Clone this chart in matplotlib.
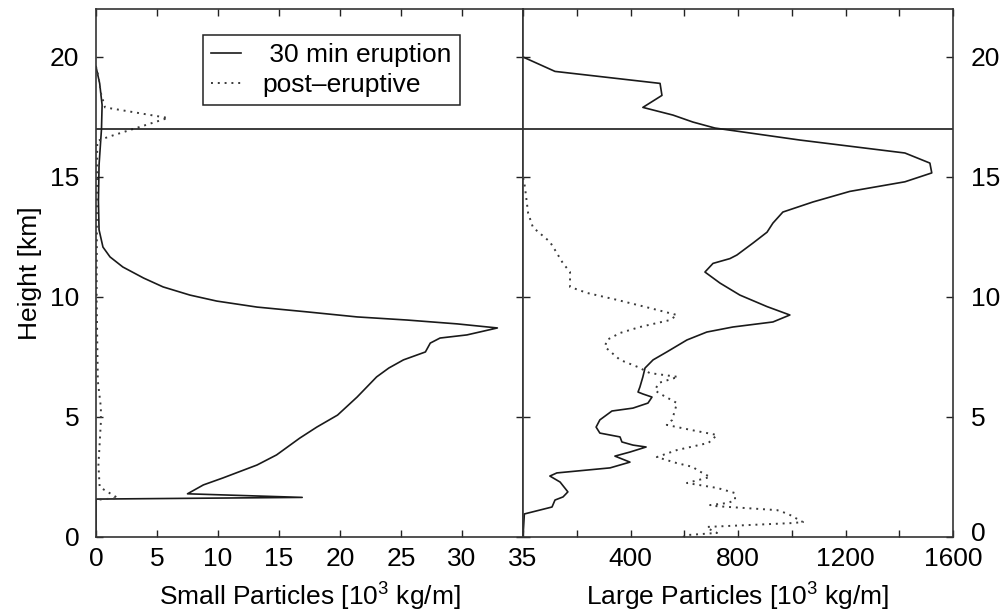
import matplotlib
matplotlib.use("Agg")
import matplotlib.pyplot as plt
from matplotlib.transforms import ScaledTranslation

plt.rcParams["font.family"] = ["Liberation Sans", "DejaVu Sans"]
plt.rcParams["font.size"] = 19
plt.rcParams["mathtext.fontset"] = "custom"
plt.rcParams["mathtext.rm"] = "Liberation Sans"
plt.rcParams["mathtext.it"] = "Liberation Sans"

# Small particles: mass per unit height [10^3 kg/m] vs. height [km]
small_erupt_h = [0.0, 1.58, 1.65, 1.80, 2.17, 2.46, 3.00, 3.42, 4.12, 4.58, 5.08, 5.83,
                 6.67, 7.04, 7.38, 7.71, 8.08, 8.29, 8.42, 8.71, 8.88, 9.04, 9.17, 9.38,
                 9.58, 9.83, 10.08, 10.42, 10.79, 11.25, 11.67, 12.08, 12.80, 14.00,
                 15.50, 17.00, 18.00, 18.90, 19.60]
small_erupt_v = [0.0, 0.0, 16.9, 7.5, 8.8, 10.4, 13.2, 14.8, 16.7, 18.1, 19.8, 21.4,
                 23.0, 24.0, 25.2, 27.0, 27.4, 28.2, 30.4, 32.9, 29.6, 25.5, 21.4, 17.3,
                 13.2, 9.9, 7.7, 5.5, 3.9, 2.2, 1.15, 0.57, 0.25, 0.2,
                 0.25, 0.45, 0.5, 0.3, 0.0]

small_post_h = [0.0, 1.55, 1.62, 2.08, 3.0, 4.8, 5.4, 6.5, 10.0, 16.5, 16.67, 17.46,
                17.90, 18.5, 19.2, 19.6]
small_post_v = [0.0, 0.0, 1.8, 0.3, 0.2, 0.4, 0.4, 0.15, 0.05, 0.1, 1.0, 5.9,
                0.74, 0.4, 0.2, 0.0]

# Large particles
large_erupt_h = [0.0, 0.96, 1.25, 1.54, 1.67, 1.88, 2.29, 2.54, 2.67, 2.88, 3.0, 3.12,
                 3.37, 3.54, 3.75, 3.83, 3.96, 4.17, 4.33, 4.58, 4.88, 5.25, 5.37, 5.58,
                 5.83, 5.96, 6.04, 6.25, 6.67, 7.04, 7.38, 7.71, 8.21, 8.54, 8.75, 8.96,
                 9.25, 9.6, 10.08, 10.58, 11.04, 11.4, 11.6, 11.75, 12.25, 12.7, 13.08,
                 13.54, 13.96, 14.4, 14.8, 15.17, 15.58, 16.0, 16.54, 17.04, 17.29,
                 17.58, 17.9, 18.4, 18.9, 19.4, 20.0]
large_erupt_v = [0, 5, 108, 119, 149, 167, 138, 100, 126, 324, 361, 398,
                 342, 398, 458, 409, 368, 361, 286, 272, 286, 331, 409, 465,
                 480, 446, 428, 435, 446, 454, 484, 535, 610, 684, 781, 930,
                 993, 908, 807, 733, 677, 707, 770, 796, 856, 908, 930,
                 967, 1079, 1216, 1421, 1521, 1514, 1421, 1030, 714, 632,
                 558, 446, 517, 510, 119, 0]

large_post_h = [0.0, 0.08, 0.17, 0.38, 0.42, 0.58, 0.62, 0.92, 1.04, 1.12, 1.29, 1.33,
                1.42, 1.54, 1.83, 2.04, 2.25, 2.5, 2.79, 2.92, 3.08, 3.33, 3.62, 3.92,
                4.25, 4.46, 4.67, 4.88, 5.0, 5.58, 6.0, 6.12, 6.42, 6.67, 6.83, 7.08,
                7.38, 7.92, 8.21, 8.5, 8.75, 9.04, 9.25, 9.54, 9.88, 10.17, 10.42,
                11.04, 11.4, 11.96, 12.3, 12.9, 13.5, 14.6, 15.0]
large_post_v = [595, 610, 722, 684, 686, 1000, 1042, 993, 967, 945, 713, 696,
                763, 789, 789, 724, 610, 696, 648, 632, 572, 498, 572, 690,
                722, 625, 535, 555, 558, 573, 505, 491, 505, 577, 472, 428,
                361, 305, 312, 361, 435, 547, 573, 472, 350, 238, 175,
                175, 149, 119, 100, 37, 19, 7, 0]

tropopause_km = 17.0

small_ticks = [0, 5, 10, 15, 20, 25, 30, 35]
large_ticks = [0, 200, 400, 600, 800, 1000, 1200, 1400, 1600]
large_tick_labels = ["", "", "400", "", "800", "", "1200", "", "1600"]
height_ticks = [0, 5, 10, 15, 20]

line_col = "#1a1a1a"
dot_col = "#3a3a3a"
dot_style = (0, (1.0, 2.5))

fig = plt.figure(figsize=(10.07, 6.13), dpi=100)
W, H = 1007.0, 613.0
x0, xm, x1 = 96 / W, 523 / W, 953 / W
y0, y1 = 1 - 537 / H, 1 - 9 / H
axL = fig.add_axes([x0, y0, xm - x0, y1 - y0])
axR = fig.add_axes([xm, y0, x1 - xm, y1 - y0])

axL.plot(small_erupt_v, small_erupt_h, color=line_col, lw=1.2, label=" 30 min eruption")
axL.plot(small_post_v, small_post_h, color=dot_col, lw=1.4, ls=dot_style,
         label="post\u2013eruptive")
axR.plot(large_erupt_v, large_erupt_h, color=line_col, lw=1.2)
axR.plot(large_post_v, large_post_h, color=dot_col, lw=1.4, ls=dot_style)

for ax in (axL, axR):
    ax.axhline(tropopause_km, color=line_col, lw=1.2)
    ax.set_ylim(0, 22)
    ax.set_yticks(height_ticks)
    ax.tick_params(direction="in", top=True, right=True, left=True, bottom=True,
                   length=5, width=1, colors="#222222", labelcolor="black")
    for s in ax.spines.values():
        s.set_color("#333333")
        s.set_linewidth(1.2)

unit = r"[10$^{\mathregular{3}}$ kg/m]"

axL.set_xlim(0, 35)
axL.set_xticks(small_ticks)
axL.tick_params(axis="x", pad=7)
axL.tick_params(axis="y", labelleft=True, labelright=False, pad=12)
axL.set_xlabel("Small Particles " + unit, labelpad=7)
axL.set_ylabel("Height [km]", labelpad=6)

axR.set_xlim(0, 1600)
axR.set_xticks(large_ticks)
axR.set_xticklabels(large_tick_labels)
axR.tick_params(axis="x", pad=7)
axR.tick_params(axis="y", labelleft=False, labelright=True, pad=13)
axR.set_xlabel("Large Particles " + unit, labelpad=7)

# lift the right-hand "0" a little so it sits just above the "1600" label
zero_lbl = axR.yaxis.get_major_ticks()[0].label2
zero_lbl.set_transform(zero_lbl.get_transform()
                       + ScaledTranslation(0, 4 / 72, fig.dpi_scale_trans))

leg = axL.legend(loc="upper left", bbox_to_anchor=(0.2506, 0.9508), frameon=True,
                 fancybox=False, framealpha=1, edgecolor="#222222",
                 handlelength=1.15, handletextpad=0.8, borderpad=0.3,
                 labelspacing=0.25, borderaxespad=0)
leg.get_frame().set_linewidth(1.1)

fig.savefig("out.png", dpi=100)
